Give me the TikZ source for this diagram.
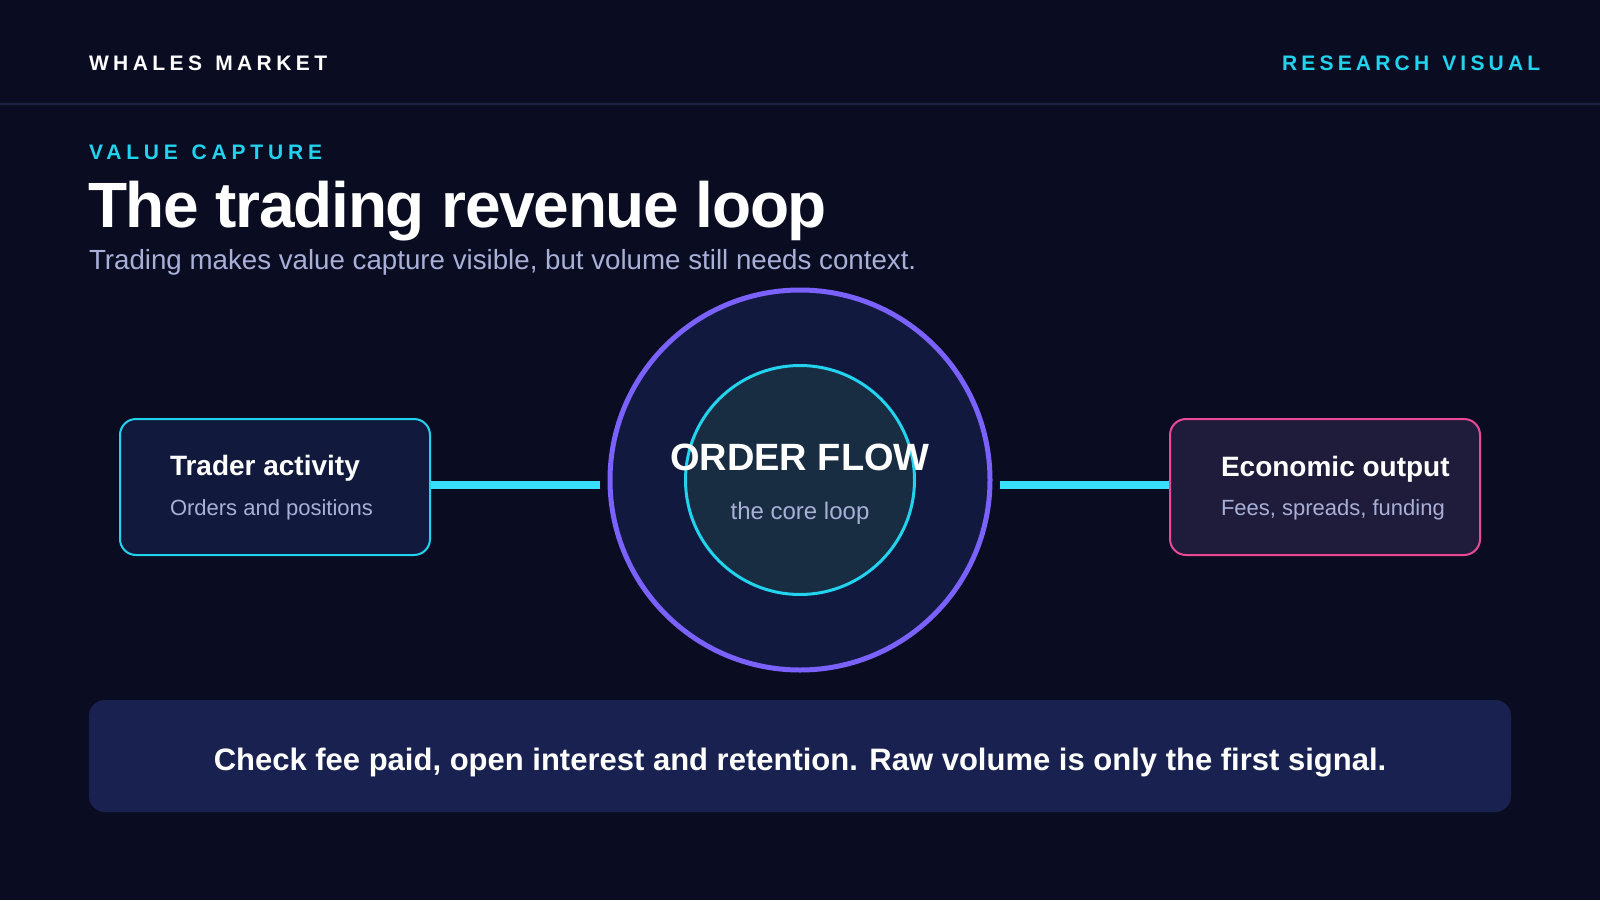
\documentclass[tikz,border=0pt]{standalone}
\usepackage{fontspec}
\setmainfont{Liberation Sans}
\definecolor{bg}{HTML}{0A0D22}
\definecolor{rule}{HTML}{1D2245}
\definecolor{cyan}{HTML}{22D3EE}
\definecolor{wire}{HTML}{38E0FF}
\definecolor{lav}{HTML}{A9B0D8}
\definecolor{purp}{HTML}{7B61FF}
\definecolor{outerfill}{HTML}{111A3E}
\definecolor{innerfill}{HTML}{182C42}
\definecolor{leftfill}{HTML}{111A3D}
\definecolor{rightfill}{HTML}{1F1B3A}
\definecolor{pink}{HTML}{EC4899}
\definecolor{banner}{HTML}{18214F}
\begin{document}
\begin{tikzpicture}[x=0.5pt,y=-0.5pt,
  txt/.style={inner sep=0pt,outer sep=0pt},
  card/.style={rectangle,rounded corners=8pt,minimum width=155pt,minimum height=68pt,line width=1pt,inner sep=0pt},
  conn/.style={wire,line width=4pt},
  cardtitle/.style={txt,anchor=base west,text=white,font=\bfseries\fontsize{14pt}{16pt}\selectfont},
  cardsub/.style={txt,anchor=base west,text=lav,font=\fontsize{11pt}{13pt}\selectfont}]
\useasboundingbox (0,0) rectangle (1600,900);
\fill[bg] (0,0) rectangle (1600,900);
% header
\node[txt,anchor=base west,text=white] (brand) at (89,70)
  {\bfseries\fontsize{10.5pt}{12pt}\selectfont\addfontfeature{LetterSpace=21}WHALES\hspace{1.5pt} MARKET};
\node[txt,anchor=base west,text=cyan] (tag) at (1282,70)
  {\bfseries\fontsize{10.5pt}{12pt}\selectfont\addfontfeature{LetterSpace=20}RESEARCH\hspace{1.5pt} VISUAL};
\coordinate (rl) at (0,104);
\coordinate (rr) at (1600,104);
\draw[rule,line width=1pt] (rl) -- (rr);
% titles
\node[txt,anchor=base west,text=cyan] (kicker) at (89,159)
  {\bfseries\fontsize{10.5pt}{12pt}\selectfont\addfontfeature{LetterSpace=23}VALUE\hspace{1.5pt} CAPTURE};
\node[txt,anchor=base west,text=white] (title) at (88,227)
  {\bfseries\fontsize{32pt}{36pt}\selectfont\addfontfeature{LetterSpace=-2}The trading revenue loop};
\node[txt,anchor=base west,text=lav] (sub) at (89,269)
  {\fontsize{13.85pt}{16pt}\selectfont Trading makes value capture visible, but volume still needs context.};
% circles
\node[circle,draw=purp,fill=outerfill,line width=2.5pt,minimum size=190pt,inner sep=0pt] (outer) at (800,480) {};
\node[circle,draw=cyan,fill=innerfill,line width=1.5pt,minimum size=114.5pt,inner sep=0pt] (inner) at (800,480) {};
\node[txt,anchor=base,text=white] (of) at (800,470)
  {\bfseries\fontsize{19pt}{21pt}\selectfont ORDER FLOW};
\node[txt,anchor=base,text=lav] (core) at (800,519)
  {\fontsize{12pt}{14pt}\selectfont the core loop};
% cards
\node[card,draw=cyan,fill=leftfill] (left) at (275,487) {};
\node[cardtitle] (lt) at (170,475) {Trader activity};
\node[cardsub] (ls) at (170,515) {Orders and positions};
\node[card,draw=pink,fill=rightfill] (right) at (1325,487) {};
\node[cardtitle] (rt) at (1221,476) {Economic output};
\node[cardsub] (rs) at (1221,515) {Fees, spreads, funding};
% connectors
\coordinate (lend) at (600,485);
\coordinate (rend) at (1000,485);
\draw[conn] (left.east |- lend) -- (lend);
\draw[conn] (rend) -- (right.west |- rend);
% banner
\node[rectangle,rounded corners=8pt,fill=banner,minimum width=711pt,minimum height=56pt,inner sep=0pt] (ban) at (800,756) {};
\node[txt,anchor=base,text=white] (bant) at (800,770)
  {\bfseries\fontsize{15.5pt}{18pt}\selectfont Check fee paid, open interest and retention. Raw volume is only the first signal.};
\end{tikzpicture}
\end{document}
